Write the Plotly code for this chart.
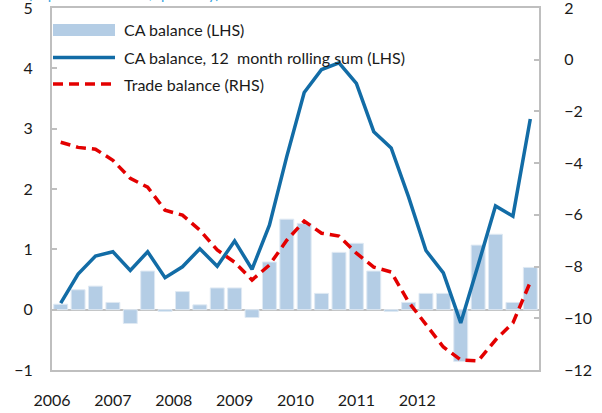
import plotly.graph_objects as go

# ---- data (quarterly, 2006Q1 - 2012Q4) ----
quarters = [f"{y}Q{q}" for y in range(2006, 2013) for q in range(1, 5)]

ca_balance = [0.09, 0.33, 0.39, 0.12, -0.23, 0.64, -0.03, 0.30, 0.08, 0.36,
              0.36, -0.13, 0.79, 1.50, 1.43, 0.27, 0.95, 1.10, 0.64, -0.03,
              0.12, 0.27, 0.27, -0.86, 1.07, 1.25, 0.12, 0.70]

ca_rolling = [0.11, 0.59, 0.89, 0.96, 0.65, 0.96, 0.53, 0.71, 1.01, 0.72,
              1.14, 0.67, 1.40, 2.54, 3.60, 3.98, 4.09, 3.75, 2.95, 2.68,
              1.87, 0.98, 0.61, -0.22, 0.74, 1.72, 1.55, 3.16]

trade_balance = [-3.19, -3.39, -3.46, -3.89, -4.59, -4.93, -5.82, -6.01, -6.59, -7.36,
                 -7.83, -8.52, -7.94, -6.98, -6.24, -6.71, -6.82, -7.48, -8.02, -8.21,
                 -9.37, -10.26, -11.11, -11.61, -11.65, -10.84, -10.18, -8.60]

year_labels = ["2006", "2007", "2008", "2009", "2010", "2011", "2012"]

names = ["CA balance (LHS)", "CA balance, 12  month rolling sum (LHS)", "Trade balance (RHS)"]
subtitle = "(in percent of GDP, quarterly)"

# ---- styling ----
BAR_C = "#b4cde5"
BLUE = "#126ca6"
RED = "#e30000"
GRAY = "#bfbfbf"
FONT = "Lato"

x = list(range(len(quarters)))
label_pos = [-0.5 + 3.5 * i for i in range(len(year_labels))]
minor_pos = [1.5 + 2 * i for i in range(13)]

fig = go.Figure()
fig.add_trace(go.Bar(x=x, y=ca_balance, name=names[0], marker=dict(color=BAR_C, line=dict(color="#dfe9f3", width=1)),
                     showlegend=False, hovertext=quarters))
fig.add_trace(go.Scatter(x=x, y=ca_rolling, name=names[1], mode="lines",
                         line=dict(color=BLUE, width=3.5), showlegend=False, hovertext=quarters))
fig.add_trace(go.Scatter(x=x, y=trade_balance, name=names[2], mode="lines", yaxis="y2",
                         line=dict(color=RED, width=3.5, dash="10px,6px"), showlegend=False, hovertext=quarters))

fig.update_layout(
    width=602, height=413,
    margin=dict(l=52, r=63, t=8, b=43, autoexpand=False),
    paper_bgcolor="white", plot_bgcolor="white",
    font=dict(family=FONT, size=16, color="#1a1a1a"),
    bargap=0.2,
    xaxis=dict(range=[-0.5, 27.5], tickmode="array", tickvals=label_pos, ticktext=year_labels,
               ticks="", showgrid=False, zeroline=False, showline=True, linecolor=GRAY, linewidth=2,
               mirror=True, ticklabelstandoff=15, automargin=False, ticklabeloverflow="allow"),
    xaxis2=dict(range=[-0.5, 27.5], overlaying="x", anchor="free", position=1/6, side="bottom",
                tickmode="array", tickvals=minor_pos, ticks="inside", ticklen=4, tickcolor=GRAY,
                tickwidth=1.5, showticklabels=False, showline=False, showgrid=False, zeroline=False,
                automargin=False),
    yaxis=dict(range=[-1, 5], dtick=1, ticks="inside", ticklen=5, tickcolor=GRAY, tickwidth=1.5,
               showgrid=False, zeroline=True, zerolinecolor=GRAY, zerolinewidth=2,
               showline=True, linecolor=GRAY, linewidth=2, ticklabelstandoff=14, automargin=False,
               ticklabeloverflow="allow"),
    yaxis2=dict(range=[-12, 2], dtick=2, overlaying="y", side="right", ticks="inside", ticklen=5,
                tickcolor=GRAY, tickwidth=1.5, showgrid=False, zeroline=False,
                showline=True, linecolor=GRAY, linewidth=2, ticklabelstandoff=20, automargin=False,
                ticklabeloverflow="allow"),
)

# ---- manual legend (top-left, inside plot) ----
pw = 602 - 52 - 63
ph = 413 - 8 - 43
def px(v):
    return v / pw
def py(v):
    return 1 - v / ph

sw0, sw1 = px(1), px(63)
fig.add_shape(type="rect", xref="paper", yref="paper", x0=sw0, x1=sw1, y0=py(28), y1=py(16),
              fillcolor=BAR_C, line=dict(width=0))
fig.add_shape(type="line", xref="paper", yref="paper", x0=sw0, x1=sw1, y0=py(49.5), y1=py(49.5),
              line=dict(color=BLUE, width=3.5))
fig.add_shape(type="line", xref="paper", yref="paper", x0=sw0, x1=sw1, y0=py(76), y1=py(76),
              line=dict(color=RED, width=3.5, dash="10px,6px"))
for n, yy in zip(names, [22, 49.5, 76]):
    fig.add_annotation(text=n, xref="paper", yref="paper", x=px(70), y=py(yy), xanchor="left",
                       yanchor="middle", showarrow=False, font=dict(family=FONT, size=16, color="#1a1a1a"))

# subtitle, mostly above the top edge as in the reference
fig.add_annotation(text=subtitle, xref="paper", yref="paper", x=px(-26), y=1, xanchor="left",
                   yanchor="middle", yshift=15, showarrow=False,
                   font=dict(family=FONT, size=15, color="#3aa6df"))

fig.write_html("out.html", config={"displayModeBar": False},
               post_script="document.body.style.margin='0px';")
